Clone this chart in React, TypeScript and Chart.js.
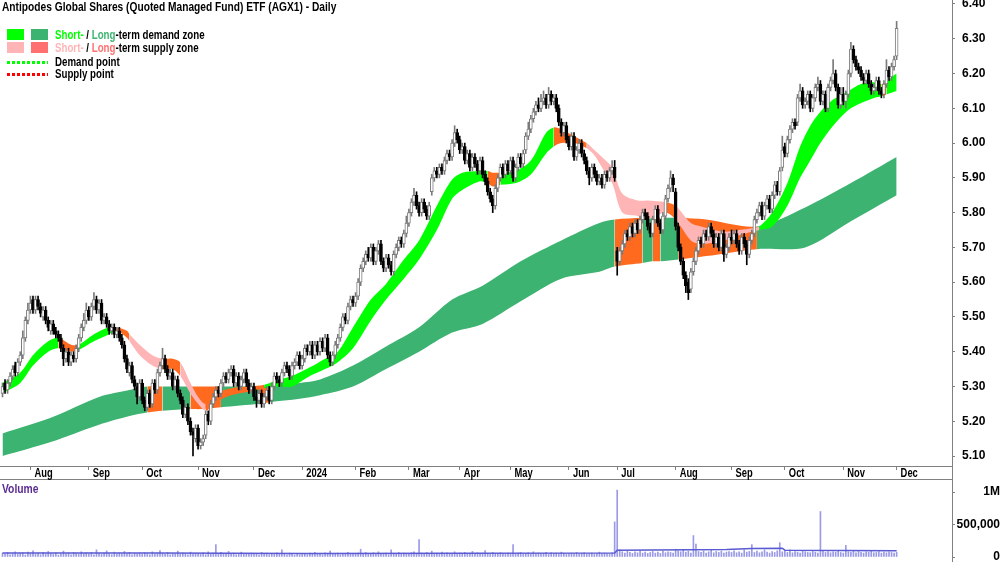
import React, { useEffect, useRef } from "react";
import { Chart, registerables } from "chart.js";
Chart.register(...registerables);

// ---------- axis labels ----------
const monthStarts = [11, 34, 55, 77, 99, 118, 139, 160, 180, 200, 223, 242, 265, 287, 308, 331, 352];
const monthLabels = ["Aug", "Sep", "Oct", "Nov", "Dec", "2024", "Feb", "Mar", "Apr", "May", "Jun", "Jul", "Aug", "Sep", "Oct", "Nov", "Dec"];
const priceTicks = [5.1, 5.2, 5.3, 5.4, 5.5, 5.6, 5.7, 5.8, 5.9, 6.0, 6.1, 6.2, 6.3, 6.4];
const volumeTicks = [0, 500000, 1000000];
const volumeTickLabels = ["0", "500,000", "1M"];

// ---------- daily OHLC (Jul 17 2023 .. Dec 2 2024) ----------
const openP = [
  5.28,5.31,5.29,5.31,5.33,5.36,5.34,5.37,5.39,5.44,5.49,
  5.52,5.55,5.52,5.55,5.53,5.50,5.52,5.49,5.46,5.48,5.46,5.45,5.44,5.41,5.38,5.40,5.37,5.39,5.38,5.41,5.44,5.47,5.49,
  5.52,5.50,5.53,5.55,5.52,5.54,5.49,5.50,5.48,5.46,5.47,5.45,5.46,5.44,5.42,5.38,5.34,5.36,5.32,5.30,5.27,
  5.31,5.26,5.24,5.28,5.25,5.31,5.29,5.34,5.36,5.38,5.35,5.33,5.34,5.30,5.32,5.28,5.26,5.22,5.24,5.20,5.17,5.15,
  5.18,5.13,5.14,5.16,5.22,5.20,5.25,5.27,5.29,5.28,5.31,5.33,5.32,5.34,5.35,5.31,5.33,5.30,5.32,5.34,5.31,5.29,
  5.30,5.27,5.26,5.28,5.25,5.27,5.29,5.26,5.30,5.33,5.32,5.31,5.34,5.36,5.35,5.33,5.36,5.37,5.39,
  5.36,5.38,5.41,5.40,5.42,5.39,5.42,5.40,5.43,5.41,5.44,5.39,5.37,5.39,5.42,5.44,5.47,5.50,5.49,5.53,5.55,
  5.54,5.56,5.60,5.64,5.66,5.68,5.67,5.70,5.66,5.69,5.71,5.66,5.64,5.67,5.65,5.63,5.68,5.70,5.72,5.71,5.74,
  5.77,5.80,5.83,5.85,5.82,5.80,5.83,5.81,5.79,5.86,5.90,5.92,5.91,5.93,5.92,5.95,5.97,5.96,6.00,6.03,
  6.01,5.98,5.99,5.95,5.97,5.93,5.96,5.94,5.92,5.95,5.91,5.89,5.86,5.84,5.82,5.87,5.90,5.93,5.91,5.94,
  5.92,5.95,5.90,5.93,5.96,5.94,5.98,6.02,6.04,6.07,6.09,6.11,6.10,6.12,6.13,6.11,6.14,6.12,6.13,6.10,6.06,6.03,6.05,
  6.01,5.99,6.02,5.96,5.98,6.00,5.97,5.95,5.92,5.90,5.93,5.91,5.89,5.90,5.88,5.91,5.90,5.92,5.93,
  5.69,5.66,5.69,5.71,5.74,5.73,5.76,5.74,5.77,5.75,5.78,5.80,5.79,5.76,5.74,5.78,5.81,5.77,5.75,5.79,5.84,5.87,5.90,
  5.86,5.76,5.70,5.66,5.62,5.60,5.58,5.63,5.66,5.69,5.72,5.71,5.74,5.73,5.76,5.74,5.71,5.73,5.70,5.74,5.68,5.70,
  5.73,5.72,5.74,5.71,5.69,5.73,5.71,5.68,5.72,5.74,5.78,5.80,5.82,5.79,5.82,5.84,5.81,5.85,5.88,5.86,5.93,
  5.99,5.97,6.01,6.04,6.06,6.06,6.13,6.15,6.11,6.12,6.14,6.10,6.13,6.16,6.17,6.12,6.14,6.10,6.16,6.18,6.20,6.16,6.11,
  6.14,6.12,6.14,6.20,6.27,6.24,6.22,6.21,6.19,6.18,6.20,6.17,6.15,6.16,6.18,6.15,6.14,6.17,6.21,6.19,6.22,
  6.25,
];
const highP = [
  5.31,5.32,5.32,5.34,5.36,5.37,5.38,5.40,5.46,5.50,5.54,
  5.56,5.56,5.56,5.56,5.54,5.53,5.53,5.50,5.49,5.49,5.47,5.46,5.45,5.42,5.41,5.41,5.40,5.40,5.42,5.45,5.48,5.51,5.54,
  5.53,5.54,5.57,5.56,5.55,5.55,5.51,5.51,5.49,5.48,5.48,5.47,5.47,5.45,5.43,5.39,5.37,5.37,5.33,5.31,5.32,
  5.32,5.27,5.29,5.29,5.32,5.32,5.35,5.37,5.41,5.39,5.36,5.35,5.35,5.33,5.33,5.29,5.27,5.25,5.25,5.21,5.18,5.19,
  5.19,5.15,5.16,5.23,5.23,5.26,5.28,5.30,5.30,5.32,5.34,5.34,5.35,5.36,5.36,5.34,5.34,5.33,5.35,5.35,5.32,5.31,
  5.31,5.29,5.29,5.29,5.28,5.30,5.30,5.31,5.34,5.34,5.33,5.35,5.37,5.37,5.36,5.37,5.38,5.40,5.40,
  5.39,5.42,5.42,5.43,5.43,5.43,5.43,5.44,5.44,5.45,5.45,5.40,5.40,5.43,5.45,5.48,5.51,5.51,5.54,5.56,5.56,
  5.57,5.61,5.65,5.67,5.69,5.70,5.71,5.71,5.70,5.72,5.72,5.67,5.68,5.68,5.66,5.69,5.71,5.73,5.73,5.75,5.79,
  5.81,5.84,5.87,5.86,5.83,5.84,5.84,5.82,5.83,5.91,5.93,5.93,5.94,5.94,5.96,5.98,5.98,6.01,6.05,6.04,
  6.02,6.00,6.00,5.98,5.98,5.97,5.97,5.95,5.96,5.96,5.92,5.90,5.87,5.85,5.88,5.91,5.94,5.94,5.95,5.95,
  5.96,5.96,5.94,5.97,5.97,5.98,6.03,6.06,6.08,6.10,6.12,6.13,6.14,6.15,6.14,6.16,6.15,6.14,6.14,6.11,6.07,6.06,6.06,
  6.02,6.03,6.03,5.99,6.01,6.01,5.98,5.96,5.93,5.94,5.94,5.92,5.91,5.91,5.92,5.92,5.93,5.95,5.95,
  5.70,5.70,5.72,5.75,5.75,5.77,5.77,5.78,5.78,5.79,5.81,5.81,5.80,5.77,5.79,5.82,5.82,5.78,5.80,5.85,5.88,5.92,5.91,
  5.87,5.77,5.71,5.67,5.63,5.61,5.64,5.67,5.70,5.73,5.73,5.75,5.75,5.77,5.77,5.75,5.74,5.74,5.75,5.75,5.71,5.74,
  5.75,5.75,5.75,5.72,5.74,5.74,5.72,5.73,5.75,5.79,5.81,5.83,5.83,5.83,5.85,5.85,5.86,5.89,5.89,5.93,6.02,
  6.00,6.02,6.05,6.07,6.07,6.14,6.17,6.16,6.13,6.15,6.15,6.14,6.17,6.19,6.18,6.15,6.15,6.17,6.19,6.24,6.21,6.17,6.16,
  6.16,6.15,6.21,6.29,6.28,6.25,6.23,6.22,6.20,6.21,6.21,6.18,6.17,6.19,6.19,6.16,6.18,6.24,6.22,6.23,6.25,
  6.35,
];
const lowP = [
  5.27,5.28,5.28,5.30,5.32,5.33,5.33,5.36,5.38,5.43,5.48,
  5.51,5.51,5.51,5.52,5.50,5.49,5.48,5.46,5.45,5.45,5.44,5.43,5.40,5.36,5.37,5.36,5.36,5.37,5.37,5.40,5.43,5.46,5.48,
  5.49,5.49,5.52,5.51,5.51,5.48,5.48,5.47,5.45,5.45,5.44,5.44,5.43,5.41,5.37,5.34,5.33,5.31,5.29,5.25,5.26,
  5.25,5.23,5.23,5.24,5.24,5.28,5.28,5.33,5.35,5.34,5.32,5.32,5.29,5.29,5.27,5.25,5.21,5.21,5.19,5.16,5.10,5.14,
  5.12,5.12,5.13,5.15,5.19,5.19,5.24,5.26,5.27,5.27,5.30,5.31,5.31,5.33,5.30,5.30,5.29,5.29,5.31,5.30,5.28,5.28,
  5.26,5.24,5.25,5.24,5.24,5.26,5.25,5.25,5.29,5.31,5.30,5.30,5.33,5.34,5.32,5.32,5.35,5.36,5.35,
  5.35,5.37,5.39,5.39,5.38,5.38,5.39,5.39,5.40,5.40,5.38,5.36,5.36,5.38,5.41,5.43,5.46,5.48,5.48,5.52,5.53,
  5.53,5.55,5.59,5.63,5.65,5.66,5.66,5.65,5.65,5.68,5.65,5.63,5.63,5.64,5.62,5.62,5.67,5.69,5.70,5.70,5.73,
  5.76,5.79,5.82,5.81,5.79,5.79,5.80,5.78,5.78,5.85,5.89,5.90,5.90,5.91,5.91,5.94,5.95,5.95,5.99,6.00,
  5.97,5.97,5.94,5.94,5.92,5.92,5.93,5.91,5.91,5.90,5.88,5.85,5.83,5.80,5.81,5.86,5.89,5.90,5.90,5.91,
  5.91,5.89,5.89,5.92,5.93,5.93,5.97,6.01,6.03,6.06,6.08,6.09,6.09,6.11,6.10,6.10,6.11,6.11,6.09,6.05,6.02,6.02,6.00,
  5.98,5.98,5.95,5.95,5.97,5.96,5.94,5.91,5.88,5.89,5.90,5.88,5.88,5.87,5.87,5.89,5.89,5.91,5.89,
  5.62,5.65,5.68,5.70,5.72,5.72,5.73,5.73,5.74,5.74,5.77,5.78,5.75,5.73,5.73,5.77,5.76,5.74,5.74,5.78,5.83,5.86,5.86,
  5.75,5.69,5.65,5.61,5.57,5.55,5.57,5.62,5.65,5.68,5.70,5.70,5.72,5.72,5.73,5.70,5.70,5.69,5.69,5.66,5.67,5.69,
  5.71,5.71,5.70,5.68,5.68,5.70,5.65,5.67,5.71,5.73,5.77,5.79,5.78,5.78,5.81,5.80,5.80,5.84,5.85,5.85,5.92,
  5.96,5.96,6.00,6.03,6.04,6.05,6.12,6.10,6.10,6.11,6.09,6.09,6.12,6.15,6.11,6.11,6.09,6.09,6.15,6.17,6.15,6.10,6.10,
  6.11,6.10,6.13,6.19,6.23,6.21,6.20,6.18,6.17,6.17,6.16,6.14,6.14,6.15,6.14,6.13,6.13,6.16,6.18,6.18,6.21,
  6.24,
];
const closeP = [
  5.30,5.29,5.31,5.33,5.35,5.34,5.37,5.39,5.44,5.49,5.52,
  5.54,5.52,5.55,5.53,5.51,5.52,5.49,5.47,5.48,5.46,5.45,5.44,5.41,5.38,5.40,5.37,5.39,5.38,5.41,5.44,5.47,5.49,5.52,
  5.50,5.53,5.55,5.52,5.54,5.49,5.50,5.48,5.46,5.47,5.45,5.46,5.44,5.42,5.38,5.35,5.36,5.32,5.30,5.27,5.31,
  5.26,5.24,5.28,5.25,5.31,5.29,5.34,5.36,5.38,5.35,5.33,5.34,5.30,5.32,5.28,5.26,5.22,5.24,5.20,5.17,5.16,5.18,
  5.13,5.14,5.15,5.22,5.20,5.25,5.27,5.29,5.28,5.31,5.33,5.32,5.34,5.35,5.31,5.33,5.30,5.32,5.34,5.31,5.29,5.30,
  5.27,5.26,5.28,5.25,5.27,5.29,5.26,5.30,5.33,5.32,5.31,5.34,5.36,5.35,5.33,5.36,5.37,5.39,5.36,
  5.38,5.41,5.40,5.42,5.39,5.42,5.40,5.43,5.41,5.44,5.39,5.37,5.39,5.42,5.44,5.47,5.50,5.49,5.53,5.55,5.54,
  5.56,5.60,5.64,5.66,5.68,5.67,5.70,5.66,5.69,5.71,5.66,5.64,5.67,5.65,5.63,5.68,5.70,5.72,5.71,5.74,5.77,
  5.80,5.83,5.85,5.82,5.80,5.83,5.81,5.79,5.82,5.90,5.92,5.91,5.93,5.92,5.95,5.97,5.96,6.00,6.03,6.01,
  5.98,5.99,5.95,5.97,5.93,5.96,5.94,5.92,5.95,5.91,5.89,5.86,5.84,5.82,5.87,5.90,5.93,5.91,5.94,5.92,
  5.95,5.90,5.93,5.96,5.94,5.97,6.02,6.04,6.07,6.09,6.11,6.10,6.12,6.13,6.11,6.14,6.12,6.13,6.10,6.06,6.03,6.05,6.01,
  5.99,6.02,5.96,5.98,6.00,5.97,5.95,5.92,5.90,5.93,5.91,5.89,5.90,5.88,5.91,5.90,5.92,5.93,5.90,
  5.66,5.69,5.71,5.74,5.73,5.76,5.74,5.77,5.75,5.78,5.80,5.79,5.76,5.74,5.78,5.81,5.77,5.75,5.79,5.84,5.87,5.90,5.88,
  5.76,5.70,5.66,5.62,5.59,5.57,5.63,5.66,5.69,5.72,5.71,5.74,5.73,5.76,5.74,5.71,5.73,5.70,5.74,5.68,5.70,5.73,
  5.72,5.74,5.71,5.69,5.73,5.71,5.68,5.72,5.74,5.78,5.80,5.82,5.79,5.82,5.84,5.81,5.85,5.88,5.86,5.92,5.98,
  5.97,6.01,6.04,6.06,6.05,6.13,6.15,6.11,6.12,6.14,6.10,6.13,6.16,6.17,6.12,6.14,6.10,6.16,6.18,6.20,6.16,6.11,6.14,
  6.12,6.14,6.20,6.27,6.24,6.22,6.21,6.19,6.18,6.20,6.17,6.15,6.16,6.18,6.15,6.14,6.17,6.21,6.19,6.22,6.24,
  6.33,
];

// ---------- daily volume (thousands of units) ----------
const volumeK = [
  60,45,70,35,50,80,40,55,65,30,75,
  50,95,40,60,35,70,45,85,55,40,65,30,50,90,45,60,35,70,55,40,80,50,65,
  45,70,35,110,55,40,60,95,50,35,75,45,60,40,85,50,70,35,55,45,60,
  40,65,50,35,80,45,60,100,55,40,70,35,50,45,90,40,60,50,35,75,45,55,
  50,40,65,35,80,45,60,190,50,70,40,55,85,45,60,35,50,75,40,55,45,60,
  40,55,35,70,45,60,35,50,40,65,45,110,50,35,60,40,30,45,35,
  40,55,35,60,45,70,40,50,35,65,45,90,40,55,60,35,50,45,70,40,55,
  45,60,120,50,70,40,55,65,45,80,50,40,60,35,110,45,55,70,40,60,50,
  55,65,80,45,270,60,50,70,45,90,55,60,40,75,50,65,45,55,80,50,
  60,45,70,55,40,85,50,65,45,60,100,55,40,70,50,45,65,55,40,60,
  50,190,45,60,70,40,55,65,45,80,50,60,45,55,70,40,65,50,60,45,75,55,40,
  50,60,45,70,40,55,65,45,50,60,40,55,75,45,60,50,40,65,540,
  1030,110,80,60,95,70,55,80,65,90,60,75,55,70,85,60,75,55,90,65,80,70,60,
  120,95,80,110,75,90,60,330,200,85,70,95,60,80,110,65,85,70,90,60,75,85,
  70,95,65,80,60,110,75,85,190,70,90,65,80,110,75,60,85,70,95,220,80,
  90,70,110,65,85,75,60,95,80,70,65,85,75,60,700,90,70,85,65,80,75,95,70,
  60,180,80,70,95,65,85,70,60,80,75,90,65,70,85,60,75,65,80,70,60,
  75,
];
const volAvgIdx = [0, 60, 120, 180, 241, 242, 270, 285, 295, 307, 308, 330, 352];
const volAvgK = [62, 60, 55, 58, 60, 105, 110, 115, 130, 135, 105, 100, 95];

// ---------- short-term zone ----------
const stIdx = [0,7,12,18,22,27,30,36,42,45,49,50,54,59,63,67,70,74,77,80,84,90,97,103,109,114,121,127,132,138,145,151,158,164,171,177,181,188,191,193,196,202,208,214,217,220,225,230,233,236,240,244,250,254,261,265,271,275,284,290,295,298,303,309,314,318,322,327,333,338,343,346,348,350,352];
const stUpper = [5.31,5.34,5.39,5.43,5.44,5.42,5.42,5.45,5.47,5.47,5.46,5.45,5.42,5.39,5.38,5.38,5.37,5.31,5.27,5.25,5.28,5.295,5.30,5.305,5.32,5.33,5.355,5.38,5.40,5.47,5.55,5.595,5.665,5.72,5.82,5.895,5.915,5.92,5.92,5.915,5.915,5.92,5.95,6.03,6.045,6.04,6.02,6.00,5.98,5.96,5.93,5.855,5.835,5.835,5.83,5.82,5.77,5.76,5.745,5.75,5.755,5.76,5.80,5.885,5.99,6.05,6.09,6.125,6.15,6.17,6.175,6.17,6.175,6.19,6.20];
const stLower = [5.28,5.31,5.36,5.40,5.41,5.40,5.405,5.43,5.45,5.46,5.44,5.43,5.39,5.36,5.35,5.35,5.33,5.28,5.25,5.23,5.255,5.275,5.285,5.295,5.30,5.30,5.33,5.35,5.37,5.41,5.49,5.55,5.61,5.665,5.75,5.84,5.865,5.89,5.885,5.875,5.88,5.885,5.91,5.97,5.99,6.00,6.00,5.985,5.965,5.93,5.885,5.80,5.79,5.78,5.80,5.78,5.72,5.71,5.72,5.735,5.745,5.75,5.76,5.82,5.90,5.95,6.00,6.05,6.095,6.115,6.13,6.135,6.14,6.145,6.15];
// d = demand, s = supply, o = price inside zone
const stState = ("ddddoodddo" + "osssoossso" + "oooddddddd" + "ddddddddoo" + "ddddooosss" + "ssssosssss" + "sddddddddd" + "doddd").split("");

// ---------- long-term zone ----------
const ltIdx = [0,19,38,50,57,63,74,78,86,101,105,117,125,138,151,164,177,189,204,220,235,241,252,256,259,266,277,297,316,334,352];
const ltUpper = [5.165,5.21,5.27,5.29,5.30,5.30,5.30,5.30,5.30,5.30,5.30,5.31,5.32,5.36,5.415,5.47,5.55,5.59,5.66,5.72,5.77,5.78,5.785,5.785,5.785,5.785,5.78,5.76,5.815,5.885,5.96];
const ltLower = [5.10,5.14,5.19,5.215,5.225,5.23,5.235,5.235,5.24,5.25,5.255,5.265,5.275,5.30,5.35,5.40,5.455,5.48,5.545,5.61,5.63,5.645,5.655,5.66,5.66,5.665,5.675,5.695,5.70,5.775,5.85];
const ltState = ("ddddodoodo" + "dddddddddd" + "dododooddd" + "d").split("");

// ---------- styling ----------
const X_MIN = -0.98;
const X_MAX = 373.8;
const SANS = '"Liberation Sans", Arial, Helvetica, sans-serif';
const GREEN = "#00ff00";
const DARK_GREEN = "#3cb371";
const PINK = "#ffb5b5";
const ORANGE = "#ff6a1f";
const RED_SWATCH = "#ff7070";
const AXIS = "#808080";
const stPalette: Record<string, string> = { d: GREEN, s: PINK, o: ORANGE };
const ltPalette: Record<string, string> = { d: DARK_GREEN, s: RED_SWATCH, o: ORANGE };

const noPad = (s: any) => {
  s.paddingTop = 0; s.paddingBottom = 0; s.paddingLeft = 0; s.paddingRight = 0;
};

const framePlugin = (drawBottom: boolean) => ({
  id: "frame" + (drawBottom ? "B" : "V"),
  afterDraw(chart: any) {
    const { ctx, height } = chart;
    ctx.save();
    ctx.strokeStyle = AXIS;
    ctx.lineWidth = 1;
    ctx.beginPath();
    ctx.moveTo(952.5, 0);
    ctx.lineTo(952.5, height);
    if (drawBottom) {
      ctx.moveTo(0, height - 0.5);
      ctx.lineTo(952.5, height - 0.5);
    }
    ctx.stroke();
    ctx.restore();
  },
});

// month labels drawn condensed, anchored on the library's x scale
const monthLabelPlugin = {
  id: "monthLabels",
  afterDraw(chart: any) {
    const s = chart.scales.x;
    const ctx = chart.ctx;
    ctx.save();
    ctx.font = `bold 12px ${SANS}`;
    ctx.fillStyle = "#000";
    ctx.textBaseline = "middle";
    ctx.textAlign = "left";
    monthStarts.forEach((v, k) => {
      const x = s.getPixelForValue(v);
      ctx.save();
      ctx.translate(x + 4, s.top + 7.5);
      ctx.scale(0.78, 1);
      ctx.fillText(monthLabels[k], 0, 0);
      ctx.restore();
    });
    ctx.restore();
  },
};

function priceConfig(): any {
  const pts = (idx: number[], vals: number[]) => idx.map((x, k) => ({ x, y: vals[k] }));
  const up = (i: number) => closeP[i] >= openP[i];
  const band = (idx: number[], vals: number[], fill: any, order: number, seg?: any) => ({
    type: "line",
    data: pts(idx, vals),
    fill,
    borderWidth: 0,
    borderColor: "rgba(0,0,0,0)",
    pointRadius: 0,
    tension: 0.3,
    order,
    ...(seg ? { segment: { backgroundColor: seg } } : {}),
  });
  return {
    type: "bar",
    data: {
      datasets: [
        band(stIdx, stUpper, "+1", 2, (c: any) => stPalette[stState[c.p0DataIndex]]),
        band(stIdx, stLower, false, 2),
        band(ltIdx, ltUpper, "+1", 3, (c: any) => ltPalette[ltState[c.p0DataIndex]]),
        band(ltIdx, ltLower, false, 3),
        {
          type: "bar",
          data: closeP.map((_, i) => ({ x: i, y: [lowP[i], highP[i]] })),
          barThickness: 1,
          grouped: false,
          backgroundColor: (c: any) => (c.dataIndex !== undefined && up(c.dataIndex) ? "#7a7a7a" : "#000000"),
          borderWidth: 0,
          order: 1,
        },
        {
          type: "bar",
          data: closeP.map((c, i) => ({ x: i, y: [openP[i], c] })),
          barThickness: 3,
          grouped: false,
          borderSkipped: false,
          borderWidth: 1,
          backgroundColor: (c: any) => (c.dataIndex !== undefined && up(c.dataIndex) ? "#ffffff" : "#000000"),
          borderColor: (c: any) => (c.dataIndex !== undefined && up(c.dataIndex) ? "#7a7a7a" : "#000000"),
          order: 0,
        },
      ],
    },
    options: {
      animation: false,
      responsive: false,
      events: [],
      layout: { padding: 0 },
      plugins: { legend: { display: false }, tooltip: { enabled: false }, title: { display: false } },
      scales: {
        x: {
          type: "linear",
          min: X_MIN,
          max: X_MAX,
          offset: false,
          afterFit: (s: any) => { s.height = 14; noPad(s); },
          afterBuildTicks: (s: any) => { s.ticks = monthStarts.map((v) => ({ value: v })); },
          grid: { drawOnChartArea: false, offset: false, tickLength: 4, color: AXIS },
          border: { display: true, color: AXIS },
          ticks: { display: false, autoSkip: false, maxRotation: 0 },
        },
        y: {
          position: "right",
          min: 5.0713,
          max: 6.4115,
          afterFit: (s: any) => { s.width = 48; noPad(s); },
          afterBuildTicks: (s: any) => { s.ticks = priceTicks.map((v) => ({ value: v })); },
          grid: { drawOnChartArea: false, tickLength: 3, color: AXIS },
          border: { display: true, color: AXIS },
          ticks: {
            padding: 7,
            color: "#000",
            font: { family: SANS, size: 12, weight: "bold" },
            callback: (v: number) => v.toFixed(2),
          },
        },
      },
    },
    plugins: [framePlugin(true), monthLabelPlugin],
  };
}

function volumeConfig(): any {
  return {
    type: "bar",
    data: {
      datasets: [
        {
          type: "line",
          data: volAvgIdx.map((x, k) => ({ x, y: volAvgK[k] * 1000 })),
          borderColor: "#5a5ad2",
          borderWidth: 1.5,
          pointRadius: 0,
          fill: false,
          tension: 0,
          order: 0,
        },
        {
          type: "bar",
          data: volumeK.map((v, i) => ({ x: i, y: v * 1000 })),
          barThickness: 1,
          grouped: false,
          backgroundColor: "#9a9ae6",
          borderWidth: 0,
          order: 1,
        },
      ],
    },
    options: {
      animation: false,
      responsive: false,
      events: [],
      layout: { padding: { top: 1, bottom: 5, left: 0, right: 0 } },
      plugins: { legend: { display: false }, tooltip: { enabled: false } },
      scales: {
        x: { type: "linear", min: X_MIN, max: X_MAX, offset: false, display: false },
        y: {
          position: "right",
          min: 0,
          max: 1170000,
          afterFit: (s: any) => { s.width = 48; noPad(s); },
          afterBuildTicks: (s: any) => { s.ticks = volumeTicks.map((v) => ({ value: v })); },
          grid: { drawOnChartArea: false, tickLength: 3, color: AXIS },
          border: { display: true, color: AXIS },
          ticks: {
            padding: 1,
            crossAlign: "far",
            color: "#000",
            font: { family: SANS, size: 12, weight: "bold" },
            callback: (v: number) => {
              const k = volumeTicks.indexOf(v);
              return k >= 0 ? volumeTickLabels[k] : "";
            },
          },
        },
      },
    },
    plugins: [framePlugin(false)],
  };
}

const txt = (scale: number): React.CSSProperties => ({
  position: "absolute", font: `bold 12px ${SANS}`, color: "#000", whiteSpace: "nowrap", lineHeight: "14px",
  transform: `scaleX(${scale})`, transformOrigin: "left center",
});
const sw = (left: number, top: number, color: string): React.CSSProperties => ({ position: "absolute", left, top, width: 17, height: 11, background: color });
const dots = (top: number, color: string): React.CSSProperties => ({
  position: "absolute", left: 7, top, width: 41, height: 3,
  background: `repeating-linear-gradient(to right, ${color} 0px, ${color} 3px, transparent 3px, transparent 5px)`,
});

export default function App() {
  const priceRef = useRef<HTMLCanvasElement>(null);
  const volRef = useRef<HTMLCanvasElement>(null);
  useEffect(() => {
    const pc = new Chart(priceRef.current as HTMLCanvasElement, priceConfig());
    const vc = new Chart(volRef.current as HTMLCanvasElement, volumeConfig());
    return () => { pc.destroy(); vc.destroy(); };
  }, []);
  return (
    <div style={{ position: "fixed", left: 0, top: 0, width: 1000, height: 562, background: "#fff", overflow: "hidden" }}>
      <canvas ref={priceRef} width={1000} height={480} style={{ position: "absolute", left: 0, top: 0, width: 1000, height: 480 }} />
      <canvas ref={volRef} width={1000} height={82} style={{ position: "absolute", left: 0, top: 480, width: 1000, height: 82 }} />
      <div style={{ ...txt(0.85), left: 2, top: 0 }}>Antipodes Global Shares (Quoted Managed Fund) ETF (AGX1) - Daily</div>
      <div style={sw(7, 29, GREEN)} />
      <div style={sw(31, 29, DARK_GREEN)} />
      <div style={{ ...txt(0.81), left: 55, top: 28 }}>
        <span style={{ color: GREEN }}>Short-</span> / <span style={{ color: DARK_GREEN }}>Long</span>-term demand zone
      </div>
      <div style={sw(7, 42, PINK)} />
      <div style={sw(31, 42, RED_SWATCH)} />
      <div style={{ ...txt(0.81), left: 55, top: 41 }}>
        <span style={{ color: PINK }}>Short-</span> / <span style={{ color: RED_SWATCH }}>Long</span>-term supply zone
      </div>
      <div style={dots(61, GREEN)} />
      <div style={{ ...txt(0.81), left: 55, top: 55 }}>Demand point</div>
      <div style={dots(73, "#ff0000")} />
      <div style={{ ...txt(0.81), left: 55, top: 67 }}>Supply point</div>
      <div style={{ ...txt(0.86), left: 2, top: 482, color: "#5c2d91" }}>Volume</div>
    </div>
  );
}
